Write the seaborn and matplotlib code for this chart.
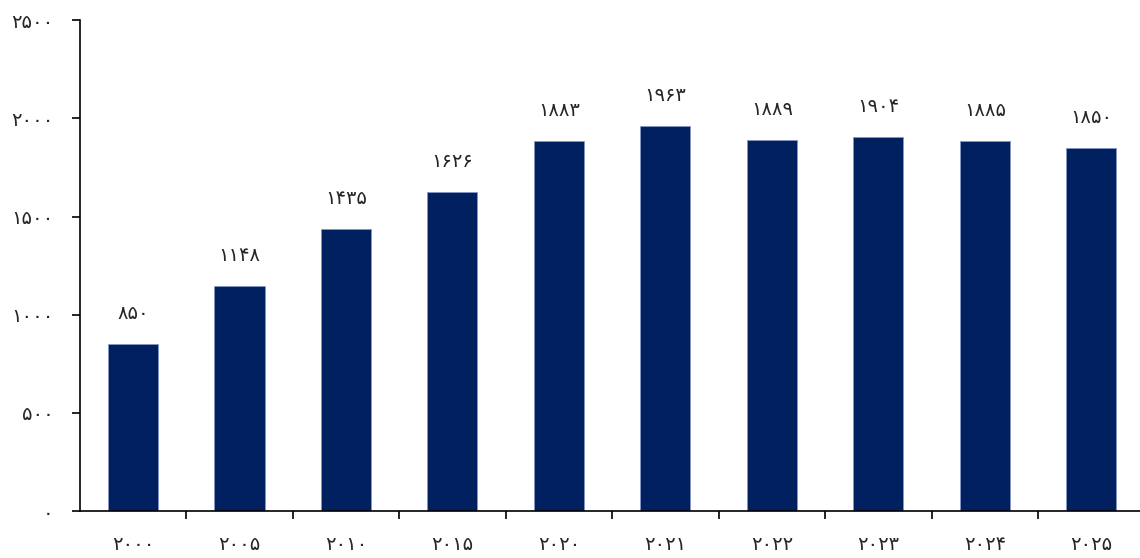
import matplotlib
matplotlib.use("Agg")
import matplotlib.pyplot as plt
import seaborn as sns
import pandas as pd
import numpy as np

years = ["2000", "2005", "2010", "2015", "2020", "2021", "2022", "2023", "2024", "2025"]
values = [850, 1148, 1435, 1626, 1883, 1963, 1889, 1904, 1885, 1850]
yticks = [0, 500, 1000, 1500, 2000, 2500]

FA = str.maketrans("0123456789", "۰۱۲۳۴۵۶۷۸۹")
def fa(s):
    return str(s).translate(FA)

sns.set_style("white")
plt.rcParams['font.family'] = ['DejaVu Sans']

df = pd.DataFrame({"year": [fa(y) for y in years], "value": values})

fig = plt.figure(figsize=(11.4, 5.58), dpi=100)
ax = fig.add_axes([0.070, 0.084, 0.934, 0.880])
sns.barplot(data=df, x="year", y="value", color="#002060", width=0.47,
            edgecolor="#8497c6", linewidth=0.6, saturation=1, ax=ax)

FS = 14
for i, v in enumerate(values):
    ax.annotate(fa(v), (i, v), xytext=(0, 22), textcoords="offset points",
                ha="center", va="center", fontsize=FS)

ax.set_ylim(0, 2500)
ax.set_xlim(-0.5, 9.5)
ax.set_yticks(yticks)
ax.set_yticklabels([fa(t) for t in yticks], fontsize=FS)
ax.set_xticks(np.arange(len(years)) + 0.5, minor=False)
ax.set_xticklabels([])
ax.set_xticks(np.arange(len(years)), minor=True)
ax.set_xticklabels([fa(y) for y in years], minor=True, fontsize=FS)
ax.tick_params(axis="x", which="major", direction="out", length=6, width=1.2, color="black", bottom=True)
ax.tick_params(axis="x", which="minor", length=0, pad=17)
ax.tick_params(axis="y", direction="out", length=6, width=1.2, color="black", left=True, pad=13)
ax.set_xlabel("")
ax.set_ylabel("")
for s in ["top", "right"]:
    ax.spines[s].set_visible(False)
for s in ["left", "bottom"]:
    ax.spines[s].set_color("black")
    ax.spines[s].set_linewidth(1.2)

fig.savefig("out.png", dpi=100)
